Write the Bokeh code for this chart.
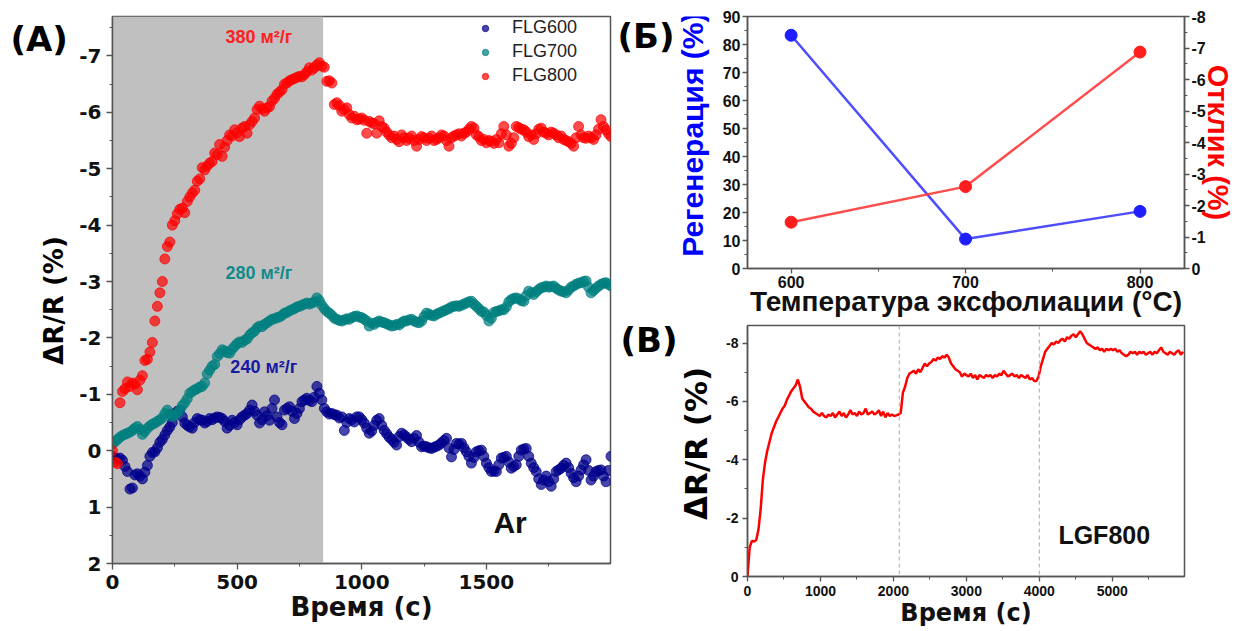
from bokeh.plotting import figure
from bokeh.models import (Range1d, LinearAxis, BoxAnnotation, Span, Label, Legend,
                          LegendItem, SingleIntervalTicker, PrintfTickFormatter)
from bokeh.layouts import row, column
from bokeh.embed import file_html
from bokeh.resources import INLINE

# ---------------- data: panel (A) ----------------
t_a = list(range(0, 2001, 10))  # sampling times, s

flg800 = [
    0.0, 0.2, 0.23, -0.85, -1.05, -1.1, -1.22, -1.14, -1.2, -1.18,
    -1.08, -1.25, -1.33, -1.6, -1.62, -1.75, -1.92, -2.3, -2.56, -2.8,
    -3.0, -3.4, -3.62, -3.7, -4.0, -4.08, -4.2, -4.28, -4.3, -4.22,
    -4.42, -4.5, -4.57, -4.62, -4.78, -4.82, -5.02, -4.98, -5.05, -5.1,
    -5.13, -5.28, -5.25, -5.43, -5.22, -5.38, -5.5, -5.6, -5.58, -5.69,
    -5.64, -5.57, -5.72, -5.75, -5.63, -5.78, -5.84, -5.9, -6.05, -6.11,
    -6.06, -6.02, -6.08, -6.1, -6.2, -6.25, -6.32, -6.36, -6.4, -6.5,
    -6.52, -6.56, -6.58, -6.6, -6.62, -6.64, -6.63, -6.67, -6.72, -6.79,
    -6.75, -6.79, -6.84, -6.88, -6.82, -6.8, -6.55, -6.56, -6.52, -6.14,
    -6.17, -6.12, -6.02, -6.05, -6.08, -5.96, -5.9, -5.93, -5.87, -5.88,
    -5.9, -5.86, -5.63, -5.84, -5.81, -5.8, -5.63, -5.85, -5.75, -5.72,
    -5.65, -5.6, -5.55, -5.58, -5.52, -5.48, -5.6, -5.55, -5.5, -5.54,
    -5.58, -5.5, -5.4, -5.52, -5.57, -5.55, -5.5, -5.54, -5.58, -5.5,
    -5.52, -5.55, -5.6, -5.58, -5.5, -5.4, -5.55, -5.58, -5.6, -5.62,
    -5.58, -5.63, -5.65, -5.7, -5.75, -5.72, -5.6, -5.57, -5.5, -5.52,
    -5.46, -5.5, -5.49, -5.45, -5.52, -5.46, -5.62, -5.75, -5.6, -5.4,
    -5.45, -5.55, -5.75, -5.73, -5.7, -5.69, -5.65, -5.57, -5.6, -5.52,
    -5.62, -5.7, -5.72, -5.65, -5.63, -5.6, -5.65, -5.63, -5.6, -5.55,
    -5.58, -5.52, -5.5, -5.48, -5.45, -5.4, -5.55, -5.75, -5.6, -5.55,
    -5.54, -5.58, -5.55, -5.52, -5.6, -5.7, -5.87, -5.75, -5.69, -5.62,
    -5.57,
]

flg700 = [
    -0.12, -0.16, -0.2, -0.24, -0.27, -0.29, -0.31, -0.33, -0.36, -0.4,
    -0.43, -0.38, -0.29, -0.34, -0.4, -0.44, -0.47, -0.49, -0.52, -0.55,
    -0.58, -0.66, -0.72, -0.65, -0.61, -0.63, -0.67, -0.72, -0.8, -0.85,
    -0.92, -1.02, -1.05, -1.08, -1.1, -1.13, -1.14, -1.2, -1.36, -1.43,
    -1.5, -1.53, -1.67, -1.72, -1.79, -1.77, -1.74, -1.73, -1.8, -1.85,
    -1.9, -1.93, -1.92, -1.96, -1.98, -2.05, -2.09, -2.12, -2.18, -2.21,
    -2.2, -2.24, -2.27, -2.3, -2.33, -2.34, -2.36, -2.37, -2.4, -2.44,
    -2.45, -2.48, -2.5, -2.52, -2.55, -2.56, -2.58, -2.6, -2.62, -2.6,
    -2.62, -2.64, -2.71, -2.66, -2.58, -2.52, -2.47, -2.44, -2.4, -2.35,
    -2.33, -2.31, -2.3, -2.32, -2.34, -2.33, -2.36, -2.38, -2.39, -2.37,
    -2.36, -2.33, -2.3, -2.21, -2.26, -2.24, -2.28, -2.3, -2.28, -2.27,
    -2.25, -2.23, -2.21, -2.22, -2.24, -2.23, -2.27, -2.3, -2.3, -2.32,
    -2.33, -2.3, -2.28, -2.27, -2.3, -2.38, -2.44, -2.42, -2.4, -2.39,
    -2.42, -2.44, -2.46, -2.48, -2.5, -2.52, -2.55, -2.56, -2.57, -2.56,
    -2.58, -2.6, -2.62, -2.64, -2.65, -2.6, -2.56, -2.52, -2.47, -2.46,
    -2.4, -2.3, -2.35, -2.45, -2.47, -2.48, -2.5, -2.5, -2.55, -2.64,
    -2.68, -2.7, -2.71, -2.69, -2.66, -2.65, -2.75, -2.83, -2.8, -2.77,
    -2.82, -2.86, -2.89, -2.9, -2.92, -2.9, -2.91, -2.92, -2.88, -2.85,
    -2.83, -2.82, -2.8, -2.85, -2.9, -2.92, -2.95, -2.97, -2.98, -3.0,
    -3.01, -2.9, -2.8, -2.84, -2.88, -2.92, -2.95, -2.97, -2.98, -2.95,
    -2.92,
]

flg600 = [
    0.1, 0.13, 0.15, 0.13, 0.17, 0.28, 0.37, 0.68, 0.66, 0.43,
    0.41, 0.45, 0.5, 0.38, 0.26, 0.1, 0.03, 0.02, -0.05, -0.15,
    -0.2, -0.28, -0.36, -0.42, -0.5, -0.66, -0.7, -0.72, -0.6, -0.49,
    -0.45, -0.42, -0.4, -0.5, -0.57, -0.55, -0.54, -0.49, -0.52, -0.57,
    -0.55, -0.58, -0.6, -0.59, -0.57, -0.52, -0.4, -0.45, -0.54, -0.5,
    -0.46, -0.55, -0.6, -0.63, -0.66, -0.72, -0.81, -0.7, -0.63, -0.49,
    -0.55, -0.69, -0.62, -0.54, -0.75, -0.9, -0.6, -0.5, -0.46, -0.72,
    -0.75, -0.78, -0.7, -0.57, -0.66, -0.75, -0.87, -0.9, -0.93, -0.89,
    -0.87, -0.95, -1.14, -1.02, -0.9, -0.75, -0.69, -0.65, -0.66, -0.64,
    -0.63, -0.58, -0.6, -0.36, -0.5, -0.57, -0.55, -0.51, -0.6, -0.6,
    -0.55, -0.49, -0.4, -0.31, -0.35, -0.45, -0.54, -0.57, -0.45, -0.36,
    -0.3, -0.24, -0.2, -0.15, -0.1, -0.25, -0.31, -0.28, -0.24, -0.2,
    -0.16, -0.22, -0.27, -0.15, -0.07, -0.08, -0.07, -0.05, -0.04, -0.06,
    -0.08, -0.1, -0.14, -0.18, -0.22, -0.05, 0.11, -0.02, -0.13, -0.12,
    -0.13, -0.05, 0.02, 0.1, 0.22, 0.12, 0.02, 0.0, -0.01, 0.1,
    0.22, 0.3, 0.37, 0.36, 0.37, 0.25, 0.13, 0.12, 0.1, 0.2,
    0.31, 0.28, 0.25, 0.1, -0.01, -0.03, -0.04, 0.1, 0.22, 0.3,
    0.37, 0.5, 0.6, 0.52, 0.45, 0.55, 0.63, 0.5, 0.37, 0.34,
    0.31, 0.26, 0.22, 0.3, 0.4, 0.48, 0.55, 0.45, 0.34, 0.25,
    0.16, 0.35, 0.52, 0.45, 0.37, 0.35, 0.34, 0.45, 0.55, 0.35,
    0.1,
]

gas_off_time = 845          # end of the shaded (gas) interval, s
series_names = ["FLG600", "FLG700", "FLG800"]
area_labels = ["240 м²/г", "280 м²/г", "380 м²/г"]

# ---------------- data: panel (Б) ----------------
temps = [600, 700, 800]
regen = [83.3, 10.5, 20.4]       # Регенерация, %
resp = [-1.47, -2.6, -6.87]      # Отклик, %

# ---------------- data: panel (В) ----------------
t_c = list(range(0, 5971, 30))
lgf800 = [
    0.0, -1.0, -1.22, -1.2, -1.25, -1.6, -2.3, -3.3, -3.9, -4.3,
    -4.6, -4.9, -5.1, -5.3, -5.45, -5.6, -5.75, -5.85, -6.05, -6.2,
    -6.35, -6.45, -6.55, -6.75, -6.5, -6.1, -6.0, -5.9, -5.8, -5.75,
    -5.65, -5.6, -5.55, -5.5, -5.6, -5.5, -5.45, -5.55, -5.5, -5.6,
    -5.45, -5.55, -5.65, -5.5, -5.6, -5.45, -5.55, -5.7, -5.55, -5.6,
    -5.5, -5.65, -5.55, -5.6, -5.75, -5.55, -5.6, -5.65, -5.55, -5.6,
    -5.7, -5.5, -5.65, -5.45, -5.6, -5.5, -5.55, -5.5, -5.52, -5.55,
    -5.6, -6.3, -6.5, -6.8, -6.95, -7.0, -7.05, -6.95, -7.1, -7.0,
    -7.15, -7.3, -7.2, -7.3, -7.35, -7.45, -7.4, -7.5, -7.45, -7.55,
    -7.5, -7.6, -7.5, -7.3, -7.2, -7.1, -7.05, -7.0, -6.85, -6.95,
    -6.9, -6.85, -6.95, -6.8, -6.9, -6.75, -6.9, -6.85, -6.8, -6.9,
    -6.85, -6.9, -6.8, -6.9, -6.85, -6.95, -6.9, -7.05, -6.95, -6.85,
    -6.9, -6.95, -6.85, -6.9, -6.8, -6.9, -6.85, -6.8, -6.9, -6.75,
    -6.8, -6.7, -6.7, -6.85, -7.2, -7.45, -7.7, -7.8, -7.9, -8.0,
    -7.95, -8.05, -8.0, -8.1, -8.15, -8.05, -8.2, -8.15, -8.25, -8.3,
    -8.2, -8.3, -8.4, -8.3, -8.15, -8.0, -7.95, -7.9, -7.85, -7.8,
    -7.85, -7.75, -7.8, -7.7, -7.8, -7.75, -7.8, -7.75, -7.8, -7.7,
    -7.75, -7.65, -7.6, -7.55, -7.6, -7.7, -7.65, -7.7, -7.6, -7.7,
    -7.65, -7.7, -7.6, -7.65, -7.7, -7.6, -7.7, -7.65, -7.75, -7.85,
    -7.7, -7.65, -7.6, -7.7, -7.65, -7.6, -7.7, -7.75, -7.6, -7.7,
]
gas_switch = [2080, 4000]

AX = "#555555"


def style_axis(ax, font, size, tick_out=6, standoff=4):
    ax.axis_line_color = AX
    ax.axis_line_width = 1.5
    ax.major_tick_line_color = AX
    ax.minor_tick_line_color = AX
    ax.major_tick_line_width = 1.3
    ax.major_tick_in = 0
    ax.major_tick_out = tick_out
    ax.minor_tick_in = 0
    ax.minor_tick_out = 3
    ax.major_label_text_font = font
    ax.major_label_text_font_style = "bold"
    ax.major_label_text_font_size = size
    ax.major_label_text_color = "#111111"
    ax.major_label_standoff = standoff
    ax.axis_label_text_font_style = "bold"
    ax.axis_label_text_color = "#111111"
    ax.formatter = PrintfTickFormatter(format="%d")


def base(p):
    p.grid.visible = False
    p.outline_line_color = AX
    p.outline_line_width = 1.5
    p.background_fill_color = "white"
    p.border_fill_color = "white"


def text_strip(w, h, top, bottom):
    # bare drawing area for side texts; its frame has the same top and bottom
    # borders as the neighbouring panels, and its y data run in page pixels
    f = figure(width=w, height=h, x_range=Range1d(0, w), y_range=Range1d(h - bottom, top),
               output_backend="svg", toolbar_location=None,
               min_border_left=0, min_border_right=0,
               min_border_top=top, min_border_bottom=bottom,
               x_axis_location=None, y_axis_location=None)
    f.grid.visible = False
    f.outline_line_color = None
    f.background_fill_color = "white"
    f.border_fill_color = "white"
    return f


def put_text(f, x, y, text, size, font="DejaVu Sans", color="black", angle=0,
             align="left"):
    f.add_layout(Label(x=x, y=y, text=text, text_font=font, text_font_style="bold",
                       text_font_size=size, text_color=color, angle=angle,
                       angle_units="deg", text_align=align, text_baseline="middle"))


# ---------------- side strip for (A) ----------------
sa = text_strip(76, 631, 16, 68)
put_text(sa, 10, 38.5, "(A)", "34px")
put_text(sa, 53, 300, "ΔR/R (%)", "26px", angle=90, align="center")

# ---------------- panel (A) ----------------
pa = figure(width=537, height=631, x_range=Range1d(0, 1998), y_range=Range1d(2, -7.7),
            output_backend="svg", toolbar_location=None,
            min_border_left=36, min_border_right=3, min_border_top=16, min_border_bottom=68)
base(pa)
pa.add_layout(BoxAnnotation(left=0, right=gas_off_time, fill_color="#c0c0c0",
                            fill_alpha=1.0, line_alpha=0, level="underlay"))
r600 = pa.scatter(t_a, flg600, size=10, fill_color="#00008b", line_color="#00008b",
                  fill_alpha=0.72, line_alpha=0.72)
r700 = pa.scatter(t_a, flg700, size=10, fill_color="#008080", line_color="#008080",
                  fill_alpha=0.72, line_alpha=0.72)
r800 = pa.scatter(t_a, flg800, size=10, fill_color="#ff0000", line_color="#ff0000",
                  fill_alpha=0.7, line_alpha=0.7)
pa.xaxis.ticker = SingleIntervalTicker(interval=500, num_minor_ticks=2)
pa.yaxis.ticker = SingleIntervalTicker(interval=1, num_minor_ticks=2)
for ax in (pa.xaxis[0], pa.yaxis[0]):
    style_axis(ax, "DejaVu Sans", "20px", 6, 5)
    ax.axis_label_text_font = "DejaVu Sans"
    ax.axis_label_text_font_size = "26px"
pa.xaxis.axis_label = "Время (с)"
pa.xaxis.axis_label_standoff = 0

leg = Legend(items=[LegendItem(label=series_names[0], renderers=[r600]),
                    LegendItem(label=series_names[1], renderers=[r700]),
                    LegendItem(label=series_names[2], renderers=[r800])],
             location=(365, 477), border_line_alpha=0, background_fill_alpha=0,
             label_text_font="Liberation Sans", label_text_font_size="18px",
             label_text_color="#222222", glyph_width=16, glyph_height=20,
             label_height=20, spacing=3, padding=0, margin=0, label_standoff=19)
pa.add_layout(leg)

area_colors = ["#1a1aa0", "#138a8a", "#ff2020"]
area_pos = [(607, -1.48), (587, -3.15), (587, -7.33)]
for txt, col, (lx, ly) in zip(area_labels, area_colors, area_pos):
    pa.add_layout(Label(x=lx, y=ly, text=txt, text_color=col, text_font="Liberation Sans",
                        text_font_style="bold", text_font_size="18px",
                        text_align="center", text_baseline="middle"))
pa.add_layout(Label(x=1595, y=1.28, text="Ar", text_color="#111111", text_font="Liberation Sans",
                    text_font_style="bold", text_font_size="30px",
                    text_align="center", text_baseline="middle"))

# ---------------- side strip for (Б) and (В) ----------------
sb = text_strip(102, 631, 16, 55)
put_text(sb, 4, 35.5, "(Б)", "34px")
put_text(sb, 79, 137, "Регенерация (%)", "30px", font="Liberation Sans",
         color="#0000ff", angle=90, align="center")
put_text(sb, 7, 347, "(В)", "34px")
put_text(sb, 82, 453, "ΔR/R (%)", "31px", angle=90, align="center")

# ---------------- panel (Б) ----------------
pb = figure(width=528, height=322, x_range=Range1d(575, 825.5), y_range=Range1d(0, 90),
            output_backend="svg", toolbar_location=None,
            min_border_left=32, min_border_right=59, min_border_top=16, min_border_bottom=54)
base(pb)
pb.extra_y_ranges = {"resp": Range1d(0, -8)}
raxis = LinearAxis(y_range_name="resp")
pb.add_layout(raxis, "right")
pb.line(temps, regen, line_color="#3a3aff", line_width=2.5, line_alpha=0.9)
pb.scatter(temps, regen, size=12, fill_color="#1e1eff", line_color="#1e1eff")
pb.line(temps, resp, y_range_name="resp", line_color="#ff3a3a", line_width=2.5, line_alpha=0.9)
pb.scatter(temps, resp, y_range_name="resp", size=12, fill_color="#ff1e1e", line_color="#ff1e1e")
pb.xaxis.ticker = SingleIntervalTicker(interval=100, num_minor_ticks=2)
pb.yaxis[0].ticker = SingleIntervalTicker(interval=10, num_minor_ticks=2)
raxis.ticker = SingleIntervalTicker(interval=1, num_minor_ticks=2)
for ax in (pb.xaxis[0], pb.yaxis[0], raxis):
    style_axis(ax, "Liberation Sans", "16px", 5, 2)
pb.xaxis.axis_label = "Температура эксфолиации (°C)"
pb.xaxis.axis_label_text_font = "Liberation Sans"
pb.xaxis.axis_label_text_font_size = "28px"
pb.xaxis.axis_label_standoff = -5
raxis.axis_label = "Отклик (%)"
raxis.axis_label_text_font = "Liberation Sans"
raxis.axis_label_text_font_size = "29px"
raxis.axis_label_text_color = "#ff0000"
raxis.axis_label_standoff = -7
raxis.major_label_standoff = 2

# ---------------- panel (В) ----------------
pc = figure(width=528, height=309, x_range=Range1d(0, 5990), y_range=Range1d(0, -8.6),
            output_backend="svg", toolbar_location=None,
            min_border_left=32, min_border_right=59, min_border_top=3, min_border_bottom=55)
base(pc)
for g in gas_switch:
    pc.add_layout(Span(location=g, dimension="height", line_color="#aaaaaa",
                       line_dash="4 3", line_width=1))
pc.line(t_c, lgf800, line_color="#ff0000", line_width=2.5)
pc.xaxis.ticker = SingleIntervalTicker(interval=1000, num_minor_ticks=2)
pc.yaxis.ticker = SingleIntervalTicker(interval=2, num_minor_ticks=2)
for ax in (pc.xaxis[0], pc.yaxis[0]):
    style_axis(ax, "Liberation Sans", "14px", 5, 4)
    ax.axis_label_text_font = "DejaVu Sans"
pc.xaxis.axis_label = "Время (с)"
pc.xaxis.axis_label_text_font_size = "24px"
pc.xaxis.axis_label_standoff = 0
pc.add_layout(Label(x=4890, y=-1.43, text="LGF800", text_color="#111111",
                    text_font="Liberation Sans", text_font_style="bold",
                    text_font_size="25px", text_align="center", text_baseline="middle"))

layout = row(sa, pa, sb, column(pb, pc))
open("out.html", "w").write(file_html(layout, INLINE))
